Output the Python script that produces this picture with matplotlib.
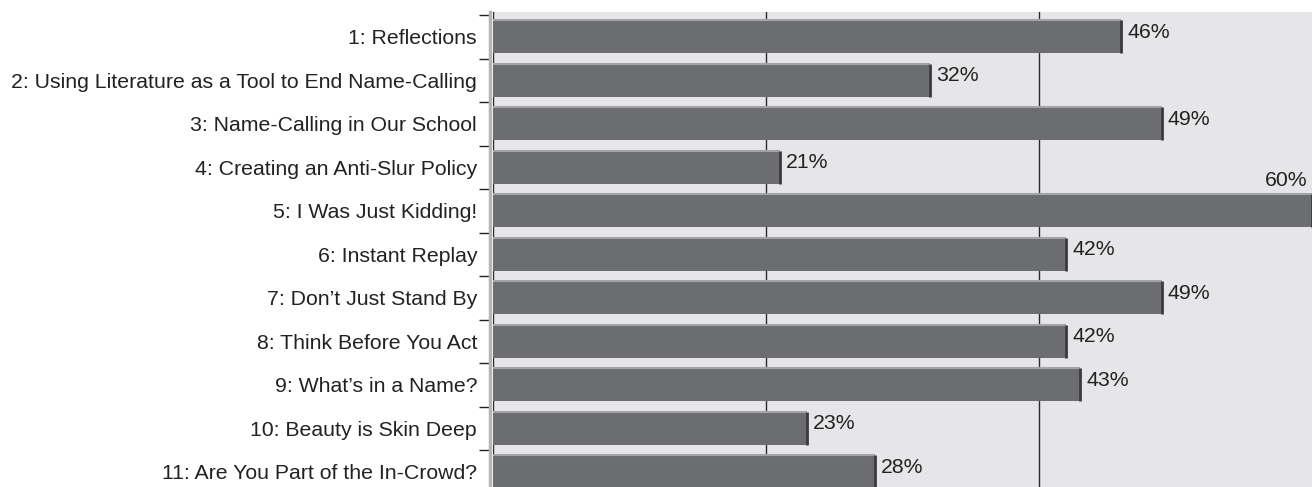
import matplotlib.pyplot as plt

labels = [
    "1: Reflections",
    "2: Using Literature as a Tool to End Name-Calling",
    "3: Name-Calling in Our School",
    "4: Creating an Anti-Slur Policy",
    "5: I Was Just Kidding!",
    "6: Instant Replay",
    "7: Don\u2019t Just Stand By",
    "8: Think Before You Act",
    "9: What\u2019s in a Name?",
    "10: Beauty is Skin Deep",
    "11: Are You Part of the In-Crowd?",
]
values = [46, 32, 49, 21, 60, 42, 49, 42, 43, 23, 28]

plt.rcParams['font.family'] = ['Liberation Sans', 'DejaVu Sans']

fig = plt.figure(figsize=(13.12, 4.87), dpi=100)
W, H = 1312, 487
ax = fig.add_axes([493 / W, 0, (1312 - 493) / W, (487 - 12) / H])
ax.set_facecolor('#e6e6e8')

ax.spines['left'].set_color('#b5b5b8')
ax.spines['left'].set_linewidth(2.5)
ax.spines['left'].set_position(('outward', 2))
for s in ['top', 'right', 'bottom']:
    ax.spines[s].set_visible(False)

bar_h = 0.76
y = list(range(len(values)))
ax.set_xlim(0, 60)
ax.set_ylim(10.35, -0.57)

for gx in [0, 20, 40]:
    ax.axvline(gx, color='#2a2a2a', lw=1.0, zorder=1)

ax.barh(y, values, height=bar_h, color='#6c6d71', edgecolor='none', zorder=2)
for yi, v in zip(y, values):
    top = yi - bar_h / 2
    bot = yi + bar_h / 2
    ax.plot([0, v], [top, top], color='#a3a4a7', lw=1.5, zorder=3, solid_capstyle='butt')
    ax.plot([v, v], [top, bot], color='#3b3b3e', lw=2, zorder=3, solid_capstyle='butt')
    if v == max(values):
        ax.text(v - 0.35, top - 0.1, f"{v}%", ha='right', va='bottom', fontsize=15.3, color='#222222')
    else:
        ax.text(v + 0.45, yi - 0.1, f"{v}%", ha='left', va='center', fontsize=15.3, color='#222222')

ax.set_yticks(y)
ax.set_yticklabels(labels)
ax.tick_params(axis='y', length=0, pad=9.5, labelsize=15.3, labelcolor='#222222')
ax.set_yticks([i - 0.5 for i in y], minor=True)
ax.tick_params(axis='y', which='minor', length=8, width=1, color='#222222')
ax.set_xticks([])

fig.savefig('out.png', dpi=100)
